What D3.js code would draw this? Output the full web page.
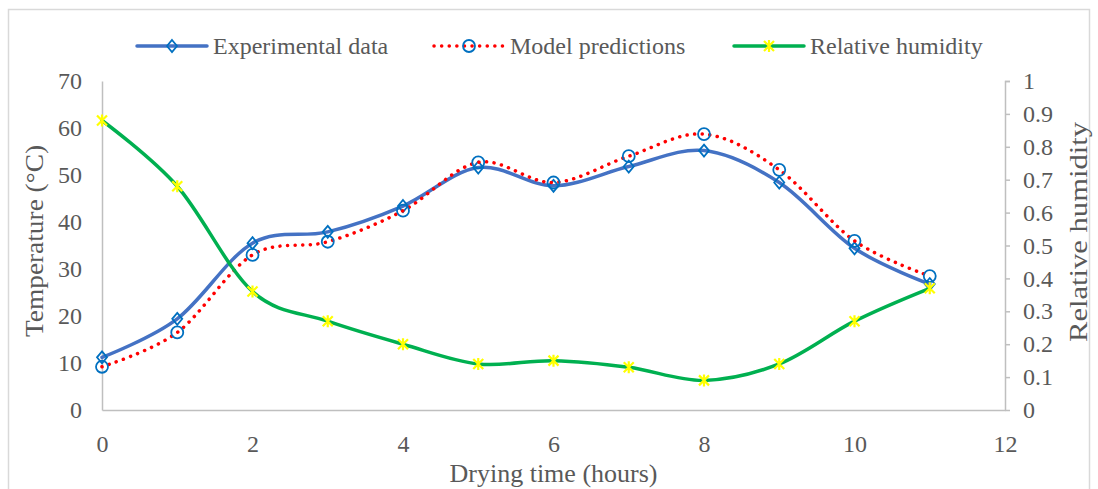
<!DOCTYPE html>
<html><head><meta charset="utf-8">
<script src="https://cdn.jsdelivr.net/npm/d3@7"></script>
<style>body{margin:0;background:#fff}svg{display:block}text{font-family:"Liberation Serif","Times New Roman",serif;fill:#595959}</style>
</head><body><svg id="c" width="1098" height="489"></svg>
<script>
const hours = [0,1,2,3,4,5,6,7,8,9,10,11];
const experimental = [11.2,19.4,35.5,37.9,43.4,51.6,47.7,51.8,55.2,48.4,34.4,26.8];
const model = [9.2,16.5,33.0,35.8,42.4,52.7,48.4,54.0,58.7,51.1,36.0,28.5];
const humidity = [0.88,0.68,0.36,0.27,0.20,0.14,0.15,0.13,0.09,0.14,0.27,0.37];
const xTicks = [0,2,4,6,8,10,12];
const tempTicks = [0,10,20,30,40,50,60,70];
const rhTicks = [0,0.1,0.2,0.3,0.4,0.5,0.6,0.7,0.8,0.9,1];
const seriesNames = ["Experimental data","Model predictions","Relative humidity"];

const svg = d3.select("#c");
const x = d3.scaleLinear().domain([0,12]).range([102,1005]);
const yL = d3.scaleLinear().domain([0,70]).range([410,81]);
const yR = d3.scaleLinear().domain([0,1]).range([410,81]);
const axisCol = "#bfbfbf";

svg.append("rect").attr("x",8.5).attr("y",9.5).attr("width",1081).attr("height",495)
  .attr("fill","none").attr("stroke","#d9d9d9").attr("stroke-width",1.5);

// axes
const gx = svg.append("g").attr("transform","translate(0,410)")
  .call(d3.axisBottom(x).tickValues(xTicks).tickSize(0).tickPadding(25).tickFormat(d3.format("d")));
const gl = svg.append("g").attr("transform","translate(102,0)")
  .call(d3.axisLeft(yL).tickValues(tempTicks).tickSize(0).tickPadding(20));
const gr = svg.append("g").attr("transform","translate(1005,0)")
  .call(d3.axisRight(yR).tickValues(rhTicks).tickSize(5).tickPadding(13).tickFormat(d=>d===0?"0":d===1?"1":d3.format(".1f")(d)));
[gx,gl,gr].forEach(g=>{
  g.select(".domain").attr("stroke",axisCol).attr("stroke-width",1.5);
  g.selectAll(".tick line").attr("stroke",axisCol).attr("stroke-width",1.5);
  g.selectAll("text").attr("font-size",24).attr("fill","#595959").attr("font-family","Liberation Serif");
});
gr.select(".domain").attr("d","M5,81.5H0.5V410");

// titles
svg.append("text").attr("x",553.5).attr("y",482).attr("text-anchor","middle").attr("font-size",26).text("Drying time (hours)");
svg.append("text").attr("transform","translate(43,241) rotate(-90)").attr("text-anchor","middle").attr("font-size",26)
  .attr("textLength",192).attr("lengthAdjust","spacingAndGlyphs").text("Temperature (°C)");
svg.append("text").attr("transform","translate(1087,232) rotate(-90)").attr("text-anchor","middle").attr("font-size",26)
  .attr("textLength",220).attr("lengthAdjust","spacingAndGlyphs").text("Relative humidity");

const curve = d3.curveCardinal.tension(0);
const lineL = d3.line().x((d,i)=>x(hours[i])).y(d=>yL(d)).curve(curve);
const lineR = d3.line().x((d,i)=>x(hours[i])).y(d=>yR(d)).curve(curve);

const blue = "#4472c4", markBlue = "#0070c0", red = "#ff0000", green = "#00b050", yellow = "#ffff00";

function diamond(g,cx,cy){g.append("path").attr("d",`M${cx},${cy-6}L${cx+5},${cy}L${cx},${cy+6}L${cx-5},${cy}Z`).attr("fill","none").attr("stroke",markBlue).attr("stroke-width",1.8);}
function circ(g,cx,cy){g.append("circle").attr("cx",cx).attr("cy",cy).attr("r",6).attr("fill","none").attr("stroke",markBlue).attr("stroke-width",1.8);}
function star(g,cx,cy){const s=5;g.append("path").attr("d",`M${cx-s},${cy-s}L${cx+s},${cy+s}M${cx-s},${cy+s}L${cx+s},${cy-s}M${cx},${cy-s-1}L${cx},${cy+s+1}`).attr("stroke",yellow).attr("stroke-width",2.2).attr("fill","none");}

// experimental
svg.append("path").attr("d",lineL(experimental)).attr("fill","none").attr("stroke",blue).attr("stroke-width",3.5).attr("stroke-linecap","round");
const gE = svg.append("g");
experimental.forEach((v,i)=>diamond(gE,x(hours[i]),yL(v)));
// model
svg.append("path").attr("d",lineL(model)).attr("fill","none").attr("stroke",red).attr("stroke-width",3.5)
  .attr("stroke-dasharray","0.1 7.5").attr("stroke-linecap","round");
const gM = svg.append("g");
model.forEach((v,i)=>circ(gM,x(hours[i]),yL(v)));
// humidity
svg.append("path").attr("d",lineR(humidity)).attr("fill","none").attr("stroke",green).attr("stroke-width",3.5).attr("stroke-linecap","round");
const gH = svg.append("g");
humidity.forEach((v,i)=>star(gH,x(hours[i]),yR(v)));

// legend
const leg = svg.append("g");
const legX = [137,434,734], ly = 46;
seriesNames.forEach((n,i)=>{
  const x0 = legX[i];
  const p = leg.append("line").attr("x1",x0).attr("x2",x0+70).attr("y1",ly).attr("y2",ly).attr("stroke-linecap","round").attr("stroke-width",3.5);
  if(i===0){p.attr("stroke",blue);diamond(leg,x0+35,ly);}
  if(i===1){p.attr("stroke",red).attr("stroke-dasharray","0.1 7.5");circ(leg,x0+35,ly);}
  if(i===2){p.attr("stroke",green);star(leg,x0+35,ly);}
  leg.append("text").attr("x",x0+76).attr("y",ly+8).attr("font-size",24).text(n);
});
</script></body></html>
